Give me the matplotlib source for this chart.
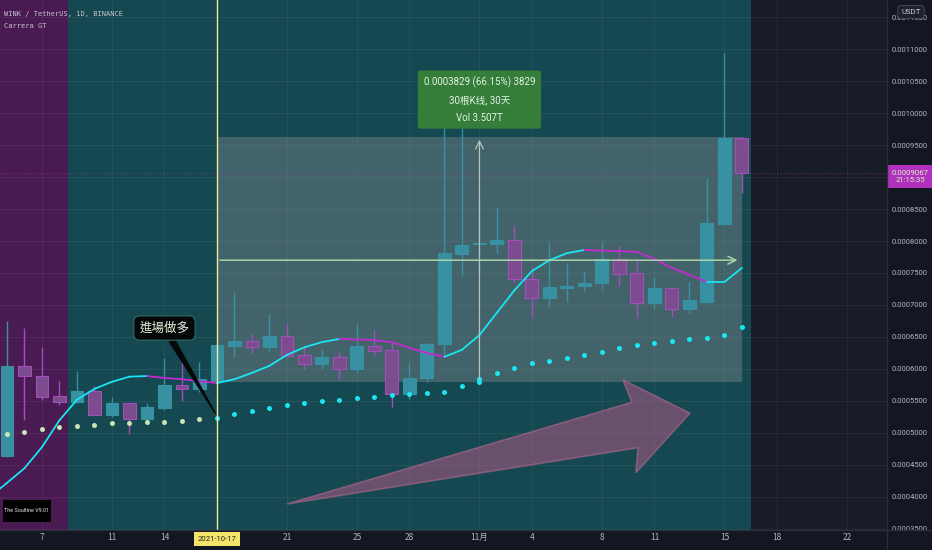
import matplotlib
matplotlib.use('Agg')
import matplotlib.pyplot as plt
import matplotlib.transforms as mtransforms
from matplotlib.patches import Rectangle, Polygon

plt.rcParams['font.family'] = ['Roboto', 'Noto Sans CJK SC', 'DejaVu Sans']

# day index: 0 = 2021-10-01, candles run Oct 5 .. Nov 16
days = list(range(4, 47))
opens = [0.000464, 0.000605, 0.000589, 0.000558, 0.000548, 0.000566, 0.000528, 0.000547, 0.000522, 0.000539,
         0.000575, 0.000569, 0.000581, 0.000636, 0.000644, 0.000634, 0.000652, 0.000622, 0.000608, 0.000619,
         0.000600, 0.000636, 0.000630, 0.000561, 0.000586, 0.000639, 0.000780, 0.000795, 0.000795, 0.000802,
         0.000741, 0.000711, 0.000727, 0.000730, 0.000734, 0.000772, 0.000750, 0.000703, 0.000727, 0.000694,
         0.000705, 0.000827, 0.000961]
highs = [0.000675, 0.000664, 0.000634, 0.000581, 0.000597, 0.000573, 0.000556, 0.000547, 0.000547, 0.000617,
         0.000623, 0.000611, 0.000638, 0.000720, 0.000655, 0.000686, 0.000672, 0.000634, 0.000630, 0.000627,
         0.000670, 0.000661, 0.000641, 0.000609, 0.000641, 0.000991, 0.000984, 0.000867, 0.000853, 0.000823,
         0.000759, 0.000800, 0.000766, 0.000753, 0.000800, 0.000794, 0.000772, 0.000744, 0.000727, 0.000736,
         0.000898, 0.001094, 0.000963]
lows = [0.000462, 0.000520, 0.000552, 0.000544, 0.000547, 0.000528, 0.000525, 0.000498, 0.000520, 0.000536,
        0.000550, 0.000564, 0.000580, 0.000619, 0.000625, 0.000627, 0.000620, 0.000600, 0.000600, 0.000584,
        0.000594, 0.000622, 0.000541, 0.000553, 0.000580, 0.000620, 0.000745, 0.000750, 0.000781, 0.000736,
        0.000681, 0.000697, 0.000705, 0.000722, 0.000725, 0.000730, 0.000680, 0.000694, 0.000681, 0.000688,
        0.000703, 0.000825, 0.000875]
closes = [0.000605, 0.000589, 0.000556, 0.000548, 0.000566, 0.000528, 0.000547, 0.000522, 0.000541, 0.000575,
          0.000569, 0.000584, 0.000638, 0.000644, 0.000634, 0.000652, 0.000620, 0.000608, 0.000619, 0.000600,
          0.000636, 0.000628, 0.000561, 0.000586, 0.000639, 0.000781, 0.000794, 0.000797, 0.000802, 0.000741,
          0.000711, 0.000728, 0.000730, 0.000734, 0.000772, 0.000748, 0.000703, 0.000727, 0.000694, 0.000708,
          0.000828, 0.000961, 0.0009067]
sar = [0.000498, 0.000502, 0.000506, 0.000509, 0.000511, 0.000513, 0.000516, 0.000516, 0.000517, 0.000517,
       0.000519, 0.000522, 0.000523, 0.000530, 0.000534, 0.000539, 0.000544, 0.000547, 0.000550, 0.000552,
       0.000555, 0.000556, 0.000559, 0.000561, 0.000563, 0.000564, 0.000573, 0.000584, 0.000594, 0.000602,
       0.000609, 0.000613, 0.000617, 0.000622, 0.000627, 0.000633, 0.000638, 0.000641, 0.000644, 0.000647,
       0.000648, 0.000653, 0.000666]
ma_days = list(range(3, 47))
ma = [0.000400, 0.000422, 0.000445, 0.000478, 0.000520, 0.000552, 0.000569, 0.000580, 0.000588, 0.000589,
      0.000586, 0.000584, 0.000581, 0.000578, 0.000584, 0.000594, 0.000605, 0.000622, 0.000634, 0.000642,
      0.000647, 0.000646, 0.000645, 0.000642, 0.000633, 0.000625, 0.000619, 0.000630, 0.000653, 0.000688,
      0.000723, 0.000753, 0.000770, 0.000781, 0.000786, 0.000785, 0.000784, 0.000783, 0.000772, 0.000758,
      0.000747, 0.000736, 0.000736, 0.000758]

tick_days = [6, 10, 13, 20, 24, 27, 31, 34, 38, 41, 45, 48, 52]
tick_labels = ['7', '11', '14', '21', '25', '28', '11月', '4', '8', '11', '15', '18', '22']
price_ticks = [0.00035 + 0.00005 * k for k in range(17)]

entry_day = 16          # 2021-10-17
box_start, box_end = 16, 46
box_low, box_high = 0.00058, 0.0009625
target_level = 0.00077
last_price = 0.0009067

BG = '#131722'
TEAL = '#154850'
PURPLE = '#4a1a52'
UP = '#3791a3'
DOWN = '#7c4c8e'
DOWN_EDGE = '#a24fbd'
CYAN = '#19e6f2'
MAGENTA = '#c42ad0'
AXIS_TXT = '#b2b5be'

fig = plt.figure(figsize=(9.32, 5.5), dpi=100, facecolor=BG)
ax = fig.add_axes([0, 20 / 550, 887 / 932, 530 / 550])
ax.set_facecolor('#181c27')
ax.set_xlim(3.6, 54.29)
ax.set_ylim(0.0003484, 0.0011766)

# background regions
ax.axvspan(3.0, 7.5, color=PURPLE, lw=0, zorder=0)
ax.axvspan(7.5, 46.5, color=TEAL, lw=0, zorder=0)

# grid
for p in price_ticks:
    ax.axhline(p, color='white', alpha=0.06, lw=0.8, zorder=0.5)
for d in tick_days + [entry_day]:
    ax.axvline(d, color='white', alpha=0.05, lw=0.8, zorder=0.5)

# measuring rectangle
ax.add_patch(Rectangle((box_start, box_low), box_end - box_start, box_high - box_low,
                       facecolor='#8a8d96', alpha=0.4, lw=0, zorder=1))

# last price line
ax.axhline(last_price, color=MAGENTA, lw=0.8, ls=(0, (1, 2)), alpha=0.5, zorder=1.5)

# candles
for d, o, h, l, c in zip(days, opens, highs, lows, closes):
    up = c >= o
    col = UP if up else DOWN
    edge = UP if up else DOWN_EDGE
    ax.vlines(d, l, h, color=edge, lw=1, zorder=2)
    body = max(abs(c - o), 0.0000015)
    ax.bar(d, body, bottom=min(o, c), width=0.74, color=col, edgecolor=edge, lw=0.8, zorder=3)

# trend line, coloured by direction
for i in range(len(ma) - 1):
    col = CYAN if ma[i + 1] >= ma[i] else MAGENTA
    ax.plot(ma_days[i:i + 2], ma[i:i + 2], color=col, lw=1.3, solid_capstyle='round', zorder=4)

# SAR dots
for d, s in zip(days, sar):
    ax.plot(d, s, 'o', ms=3.6, color=CYAN if d >= entry_day else '#c8e4b4', mec='none', zorder=4)

# entry cursor line
ax.axvline(entry_day, color='#f2eaa0', lw=1, zorder=5)

# measure arrows
ax.annotate('', xy=(box_end - 0.1, target_level), xytext=(box_start, target_level),
            arrowprops=dict(arrowstyle='->', color='#a9d4a8', lw=1.1, mutation_scale=14), zorder=5)
ax.annotate('', xy=(31, box_high), xytext=(31, box_low),
            arrowprops=dict(arrowstyle='->', color='#b8c2b8', lw=0.9, mutation_scale=14), zorder=5)
ax.plot(31, box_low, 'o', ms=3.6, color=CYAN, mec='none', zorder=6)

# green measure label
ax.text(31, 0.0010205, '0.0003829 (66.15%) 3829\n30根K线, 30天\nVol 3.507T',
        ha='center', va='center', fontsize=7, color='#e6f2e6', linespacing=1.9, zorder=7,
        bbox=dict(boxstyle='round,pad=0.6,rounding_size=0.2', fc='#347e3a', ec='none'))

# big pink arrow drawing
arrow_pts = [(20.0, 0.000389), (39.71, 0.000548), (39.2, 0.000583), (43.03, 0.000531),
             (39.94, 0.000438), (40.06, 0.000477)]
ax.add_patch(Polygon(arrow_pts, closed=True, facecolor='#b05a88', alpha=0.55,
                     edgecolor='#b86a92', lw=1.2, zorder=6))

# entry callout
ax.annotate('進場做多', xy=(15.9, 0.000531), xytext=(13.0, 0.000664),
            ha='center', va='center', fontsize=9, color='#e2f2dc', zorder=8,
            family=['Noto Sans CJK TC', 'DejaVu Sans'],
            bbox=dict(boxstyle='round,pad=0.45', fc='#050708', ec='#2f6e62', lw=0.8),
            arrowprops=dict(arrowstyle='wedge,tail_width=0.45', fc='#050708', ec='#050708',
                            shrinkA=0, shrinkB=0))

# indicator name label
ax.add_patch(Rectangle((3 / 887, 8 / 530), 48 / 887, 22 / 530, transform=ax.transAxes,
                       facecolor='black', lw=0, zorder=8))
ax.text(27 / 887, 19 / 530, 'The Soultine V9.01', transform=ax.transAxes, fontsize=3.9,
        color='#e8e8e8', ha='center', va='center', zorder=9)

# axes styling
for s in ax.spines.values():
    s.set_visible(False)
ax.yaxis.tick_right()
ax.set_yticks(price_ticks)
# the 0.0009000 label sits under the last-price tag
ax.set_yticklabels(['' if abs(p - 0.0009) < 1e-9 else '%.7f' % p for p in price_ticks])
ax.set_xticks(tick_days)
ax.set_xticklabels(tick_labels, family=['Noto Sans CJK SC', 'DejaVu Sans'])
ax.tick_params(axis='y', length=0, pad=3, labelsize=5.5, labelcolor=AXIS_TXT)
ax.tick_params(axis='x', length=0, pad=2, labelsize=6, labelcolor=AXIS_TXT)

# separators
fig.add_artist(plt.Line2D([887 / 932, 887 / 932], [0, 1], color='#2a2e39', lw=1))
fig.add_artist(plt.Line2D([0, 1], [20 / 550, 20 / 550], color='#2a2e39', lw=1))

# date label under cursor
ax.text(entry_day, -0.017, '2021-10-17', transform=mtransforms.blended_transform_factory(ax.transData, ax.transAxes),
        ha='center', va='center', fontsize=5.6, color='#222222', clip_on=False, zorder=9,
        bbox=dict(boxstyle='square,pad=0.5', fc='#f5e46a', ec='none'))

# last price tag on the price scale
tag_tr = mtransforms.blended_transform_factory(ax.transAxes, ax.transData)
ax.add_patch(Rectangle((1.0, last_price - 0.0000239), 45 / 887, 0.0000359, transform=tag_tr,
                       facecolor='#b030c0', lw=0, clip_on=False, zorder=9))
ax.text(1.0 + 23 / 887, last_price - 0.0000059, '%.7f\n21:15:35' % last_price, transform=tag_tr,
        ha='center', va='center', fontsize=5.6, color='#d8f5b8', linespacing=1.2, clip_on=False, zorder=10)

# currency tag
fig.text(911 / 932, 1 - 12 / 550, 'USDT', ha='center', va='center', fontsize=5.6, color='#c8cad0',
         bbox=dict(boxstyle='round,pad=0.45', fc='#1e222d', ec='#4a4e59', lw=0.6), zorder=10)

# header
fig.text(4 / 932, 1 - 14 / 550, 'WINK / TetherUS, 1D, BINANCE', fontsize=5, color='#c4c4cc',
         family='DejaVu Sans Mono', va='center')
fig.text(4 / 932, 1 - 26 / 550, 'Carrera GT', fontsize=5, color='#c4c4cc',
         family='DejaVu Sans Mono', va='center')

fig.savefig('out.png', dpi=100, facecolor=BG)
